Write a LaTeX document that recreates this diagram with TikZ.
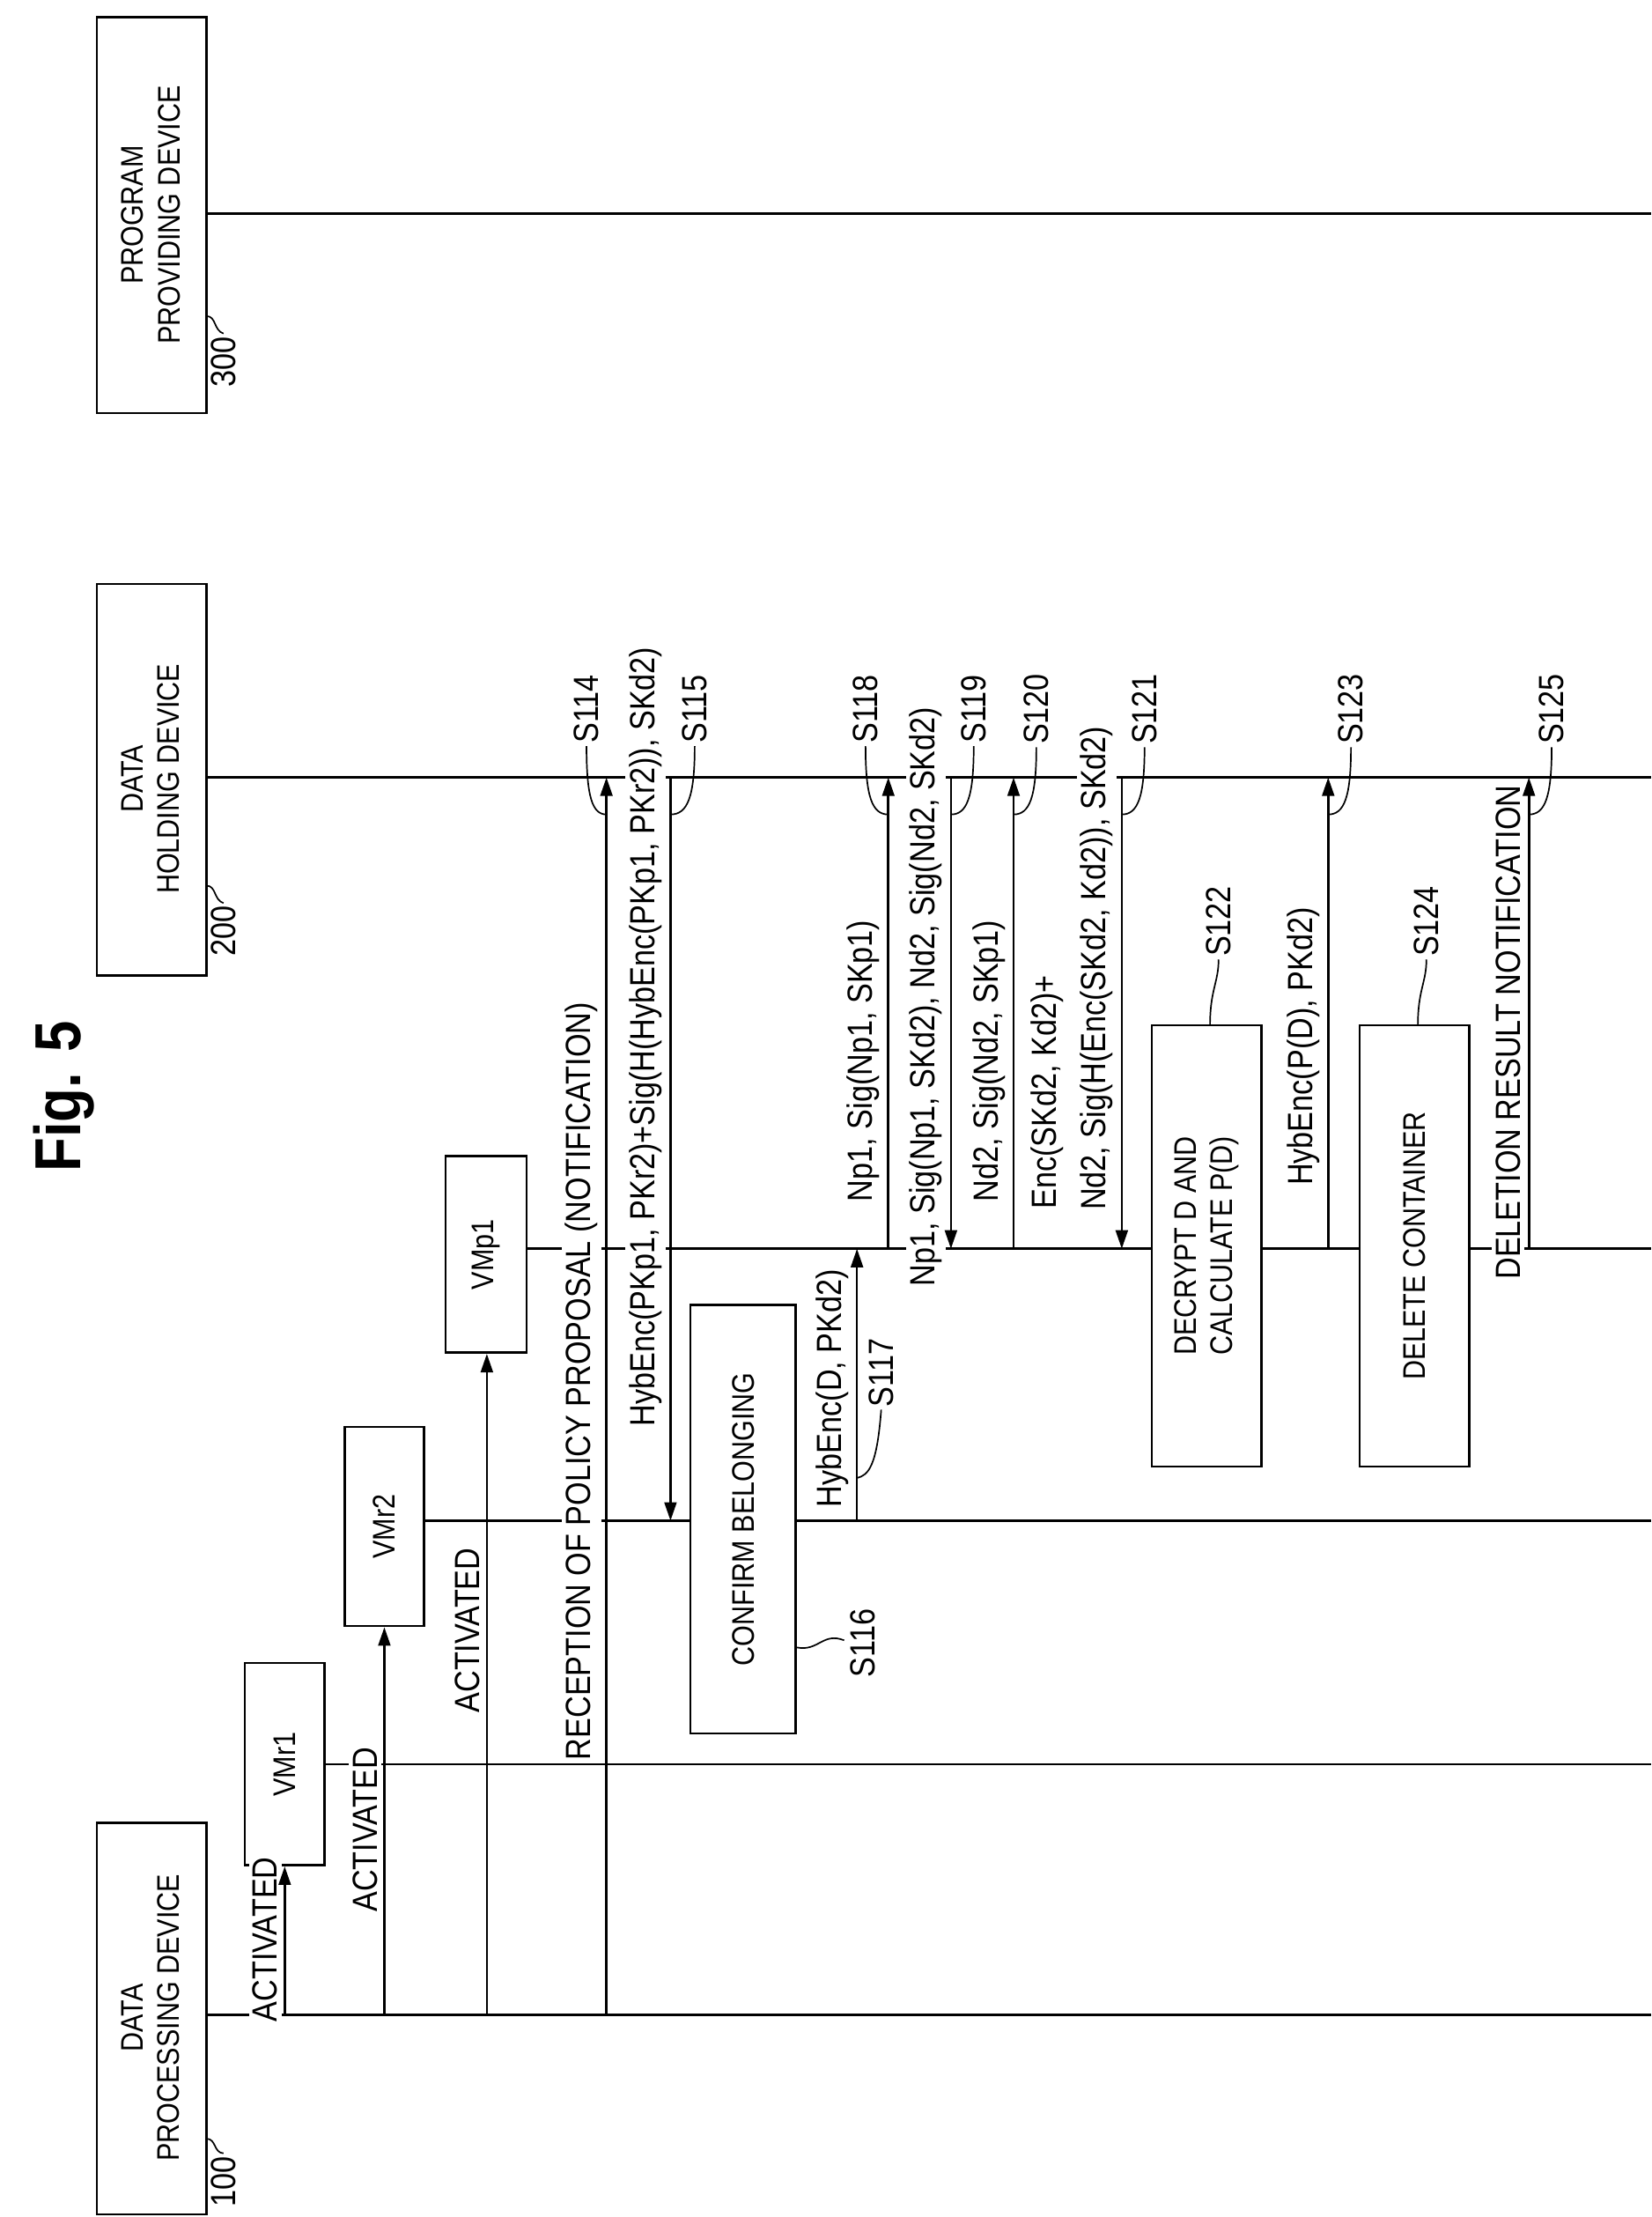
\documentclass[tikz,border=0pt]{standalone}
\usepackage{fontspec}
\setmainfont{Liberation Sans}[FakeStretch=0.86]
\usetikzlibrary{arrows.meta}
\begin{document}
\begin{tikzpicture}[x=0.02cm,y=-0.02cm,
  ln/.style={line width=0.9pt},
  msg/.style={ln,-{Triangle[length=0.26cm,width=0.17cm]}},
  box/.style={draw,fill=white,line width=0.9pt},
  lbl/.style={rotate=90,anchor=south,font=\fontsize{14}{16}\selectfont,inner sep=1.5pt,fill=white},
  stp/.style={rotate=90,font=\fontsize{14}{16}\selectfont,inner sep=1pt},
  btx/.style={rotate=90,font=\fontsize{12.5}{14.5}\selectfont,align=center},
  ld/.style={line width=0.6pt}]
\useasboundingbox (0,0) rectangle (1160,1557);
\node[rotate=90,font=\bfseries\fontsize{26}{30}\selectfont] (fig) at (45,770) {Fig. 5};
% devices
\draw[box] (68,1280) rectangle (145,1555);
\node[btx] (d100) at (106,1417) {DATA\\PROCESSING DEVICE};
\draw[box] (68,410) rectangle (145,685);
\node[btx] (d200) at (106,547) {DATA\\HOLDING DEVICE};
\draw[box] (68,12) rectangle (145,290);
\node[btx] (d300) at (106,151) {PROGRAM\\PROVIDING DEVICE};
\node[stp] (n100) at (157,1532) {100};
\node[stp] (n200) at (157,654) {200};
\node[stp] (n300) at (157,254) {300};
\draw[ld] (145,1502) .. controls (152,1502) and (150,1512) .. (n100.east);
\draw[ld] (145,622) .. controls (152,622) and (150,632) .. (n200.east);
\draw[ld] (145,222) .. controls (152,222) and (150,232) .. (n300.east);
% lifelines
\coordinate (L1) at (145,1415); \coordinate (L1e) at (1160,1415);
\coordinate (L2) at (145,546); \coordinate (L2e) at (1160,546);
\coordinate (L3) at (145,150); \coordinate (L3e) at (1160,150);
\draw[ln] (L1) -- (L1e); \draw[ln] (L2) -- (L2e); \draw[ln] (L3) -- (L3e);
% VMs
\node[box,minimum width=1.12cm,minimum height=2.84cm] (vr1) at (200,1239) {};
\node[btx] at (vr1) {VMr1};
\node[box,minimum width=1.12cm,minimum height=2.8cm] (vr2) at (270,1072) {};
\node[btx] at (vr2) {VMr2};
\node[box,minimum width=1.14cm,minimum height=2.76cm] (vp1) at (341.5,881) {};
\node[btx] at (vp1) {VMp1};
\coordinate (R1e) at (1160,1239); \coordinate (R2e) at (1160,1068); \coordinate (P1e) at (1160,877);
\draw[ln] (vr1.east |- 0,1239) -- (R1e);
\draw[ln] (vr2.east |- 0,1068) -- (R2e);
\draw[ln] (vp1.east |- 0,877) -- (P1e);
% activation
\coordinate (a1) at (200,1415); \coordinate (a2) at (270,1415); \coordinate (a3) at (342,1415);
\node[lbl] at (198,1362) {ACTIVATED};
\node[lbl] at (268,1285) {ACTIVATED};
\node[lbl] at (340,1145) {ACTIVATED};
\draw[msg] (a1) -- (a1 |- vr1.south);
\draw[msg] (a2) -- (a2 |- vr2.south);
\draw[msg] (a3) -- (a3 |- vp1.south);
% messages
\coordinate (s114a) at (426,1415); \coordinate (s114b) at (426,546);
\coordinate (s115a) at (471,546); \coordinate (s115b) at (471,1068);
\coordinate (s117a) at (602,1068); \coordinate (s117b) at (602,877);
\coordinate (s118a) at (624,877); \coordinate (s118b) at (624,546);
\coordinate (s119a) at (668,546); \coordinate (s119b) at (668,877);
\coordinate (s120a) at (712,877); \coordinate (s120b) at (712,546);
\coordinate (s121a) at (788,546); \coordinate (s121b) at (788,877);
\coordinate (s123a) at (933,877); \coordinate (s123b) at (933,546);
\coordinate (s125a) at (1074,877); \coordinate (s125b) at (1074,546);
\node[lbl] at (423,970) {RECEPTION OF POLICY PROPOSAL (NOTIFICATION)};
\node[lbl] at (468,728) {HybEnc(PKp1, PKr2)+Sig(H(HybEnc(PKp1, PKr2)), SKd2)};
\node[lbl] at (599,975) {HybEnc(D, PKd2)};
\node[lbl] at (621,745) {Np1, Sig(Np1, SKp1)};
\node[lbl] at (665,700) {Np1, Sig(Np1, SKd2), Nd2, Sig(Nd2, SKd2)};
\node[lbl] at (709,745) {Nd2, Sig(Nd2, SKp1)};
\node[lbl] at (750,767) {Enc(SKd2, Kd2)+};
\node[lbl] at (785,680) {Nd2, Sig(H(Enc(SKd2, Kd2)), SKd2)};
\node[lbl] at (930,735) {HybEnc(P(D), PKd2)};
\node[lbl] at (1071,725) {DELETION RESULT NOTIFICATION};
\foreach \s in {114,115,117,118,119,120,121,123,125}{\draw[msg] (s\s a) -- (s\s b);}
% process boxes
\node[box,minimum width=1.48cm,minimum height=6.02cm] (b116) at (522,1067) {};
\node[btx] at (b116) {CONFIRM BELONGING};
\node[box,minimum width=1.54cm,minimum height=6.2cm] (b122) at (847.5,875) {};
\node[btx] at (b122) {DECRYPT D AND\\CALCULATE P(D)};
\node[box,minimum width=1.54cm,minimum height=6.2cm] (b124) at (993.5,875) {};
\node[btx] at (b124) {DELETE CONTAINER};
% step labels
\foreach \n/\x/\a in {114/412/426,115/488/471,118/608/624,119/684/668,120/728/712,121/804/788,123/949/933,125/1090/1074}{
  \node[stp] (t\n) at (\x,498) {S\n};
  \draw[ld] (t\n.west) .. controls (\x,560) and ({\x+0.3*(\a-\x)},572) .. (\a,572);
}
\node[stp] (t116) at (606,1154) {S116};
\coordinate (c116) at (593,1152);
\draw[ld] (b116.east |- 0,1157) .. controls (575,1160) and (578,1146) .. (c116);
\node[stp] (t117) at (619,964) {S117};
\draw[ld] (t117.west) .. controls (616,1030) and (610,1036) .. (602,1038);
\node[stp] (t122) at (856,647) {S122};
\draw[ld] (850,720) .. controls (850,695) and (856,690) .. (t122.west);
\node[stp] (t124) at (1002,647) {S124};
\draw[ld] (996,720) .. controls (996,695) and (1002,690) .. (t124.west);
\end{tikzpicture}
\end{document}
